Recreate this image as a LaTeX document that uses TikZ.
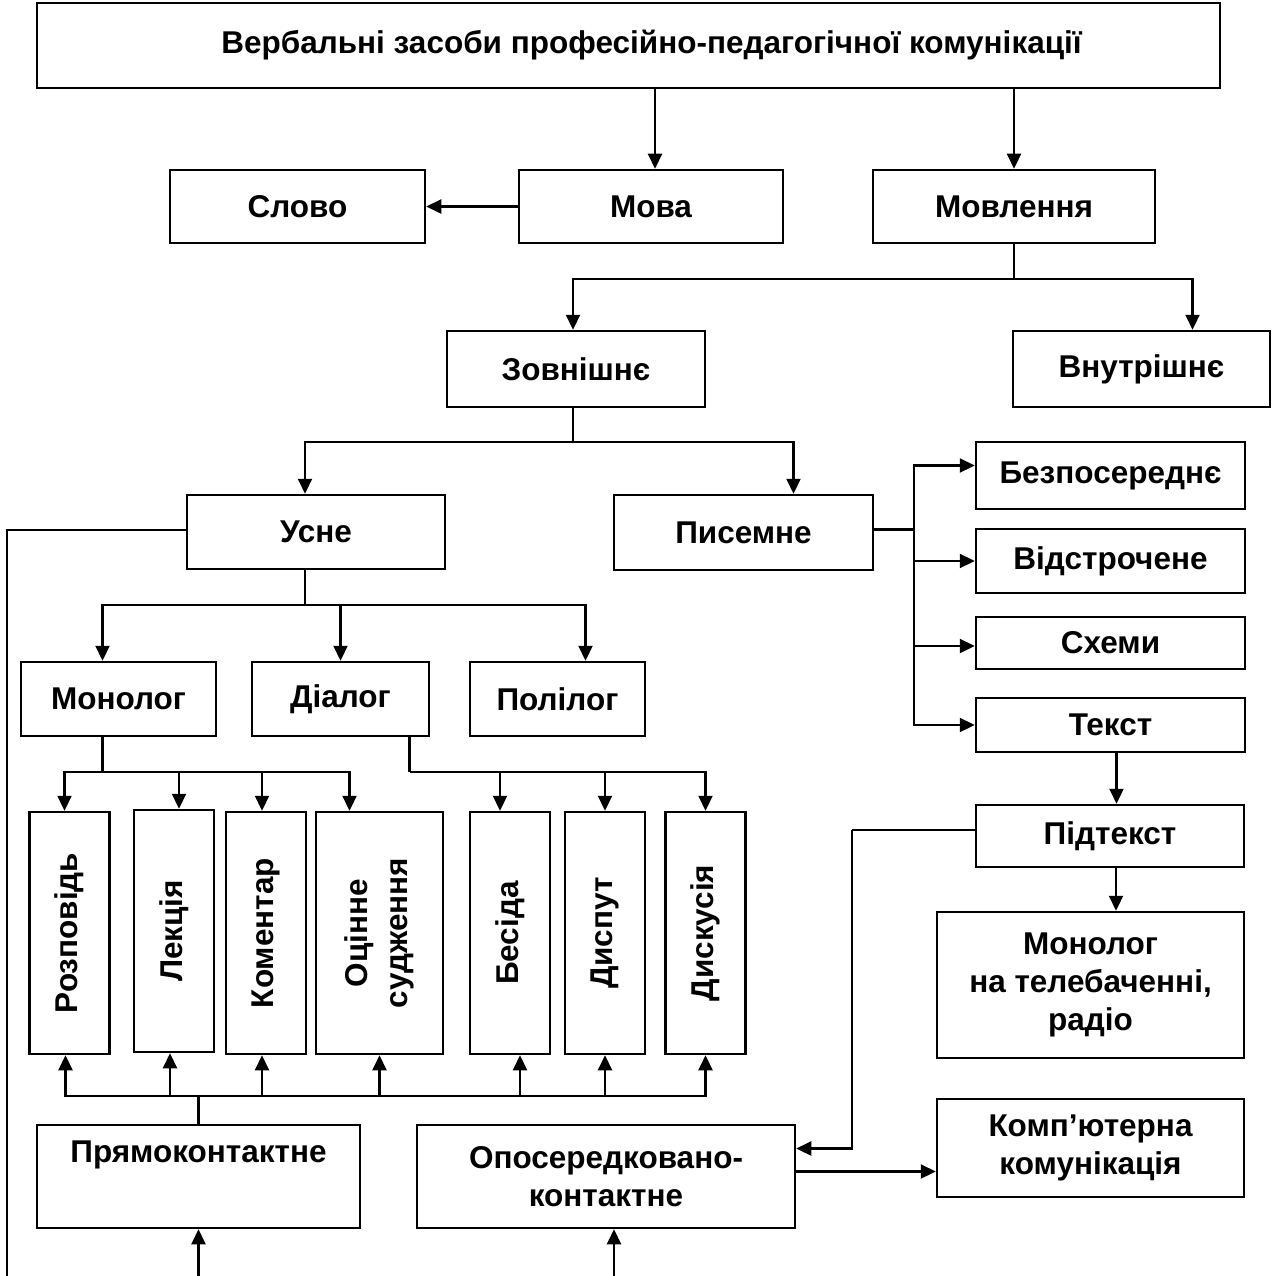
\documentclass[tikz,border=0pt]{standalone}
\usepackage{fontspec}
\setmainfont{Liberation Sans}
\usepackage{graphicx}
\usepackage{tikz}
\usetikzlibrary{arrows.meta, positioning}

\begin{document}
\begin{tikzpicture}
  [x=1pt, y=-1pt,
   every node/.style={draw, line width=2.5pt, inner sep=0pt, align=center,
                      font=\fontsize{31.5}{38}\selectfont\bfseries},
   box/.style 2 args={minimum width=#1, minimum height=#2},
   link/.style={line width=2.2pt},
   arr/.style={link, -{Triangle[length=15pt, width=14pt]}}]

  \useasboundingbox (0,0) rectangle (1271,1276);

  % upper levels
  \node[box={1183}{85}] (title) at (628.5,45.5)
       {\hspace*{46pt}Вербальні засоби професійно-педагогічної комунікації};
  \node[box={255}{73}] (slovo) at (297.5,206.5) {Слово};
  \node[box={264}{73}] (mova)  at (651,206.5)   {Мова};
  \node[box={282}{73}] (movl)  at (1014,206.5)  {Мовлення};
  \node[box={258}{76}] (zovn)  at (576,369)     {Зовнішнє};
  \node[box={257}{76}] (vnutr) at (1141.5,369)  {Внутрішнє};
  \node[box={258}{74}] (usne)  at (316,532)     {Усне};
  \node[box={259}{75}] (pys)   at (743.5,532.5) {Писемне};

  % written speech
  \node[box={269}{67}] (bezp)   at (1110.5,475.5) {Безпосереднє};
  \node[box={269}{64}] (vidstr) at (1110.5,561)   {Відстрочене};
  \node[box={269}{52}] (skhemy) at (1110.5,643)   {Схеми};
  \node[box={269}{54}] (tekst)  at (1110.5,725)   {Текст};
  \node[box={268}{62}] (pidt)   at (1110,836)     {Підтекст};
  \node[box={307}{146}] (montv) at (1090.5,985)   {Монолог\\на телебаченні,\\радіо};
  \node[box={307}{98}] (komp)   at (1090.5,1148)  {Комп’ютерна\\комунікація};

  % oral speech
  \node[box={195}{74}] (mono)  at (118.5,699) {Монолог};
  \node[box={177}{74}] (dial)  at (340.5,699) {Діалог};
  \node[box={175}{74}] (polil) at (557.5,699) {Полілог};

  \node[box={80}{242}]  (rozp)   at (69.5,933)  {\rotatebox{90}{Розповідь}};
  \node[box={80}{242}]  (lekc)   at (174,931)   {\rotatebox{90}{Лекція}};
  \node[box={80}{242}]  (koment) at (266,933)   {\rotatebox{90}{Коментар}};
  \node[box={127}{242}] (otsin)  at (379.5,933)
       {\rotatebox{90}{\begin{tabular}{@{}c@{}}Оцінне\\[2pt]судження\end{tabular}}};
  \node[box={80}{242}]  (besida) at (510,933)   {\rotatebox{90}{Бесіда}};
  \node[box={80}{242}]  (dysput) at (605,933)   {\rotatebox{90}{Диспут}};
  \node[box={80}{242}]  (dyskus) at (705.5,933) {\rotatebox{90}{Дискусія}};

  \node[box={323}{103}] (pryamo) at (198.5,1176.5) {Прямоконтактне\\\strut};
  \node[box={378}{103}] (oposer) at (606,1176.5)   {Опосередковано-\\контактне};

  \coordinate (ubot) at (7,1276);
  \coordinate (pin)  at (198.5,1276);
  \coordinate (oin)  at (614,1276);

  % connectors
  \coordinate (t1) at ([xshift=4pt]mova.north);
  \draw[arr] (t1 |- title.south) -- (t1);
  \draw[arr] (movl.north |- title.south) -- (movl.north);
  \draw[arr] (mova.west) -- (slovo.east);

  \draw[link] (movl.south) -- ++(0,35) coordinate (b1);
  \draw[arr] (b1) -| ([xshift=-3pt]zovn.north);
  \draw[arr] (b1) -| ([xshift=51pt]vnutr.north);

  \draw[link] ([xshift=-3pt]zovn.south) -- ++(0,34) coordinate (b2);
  \draw[arr] (b2) -| ([xshift=-11pt]usne.north);
  \draw[arr] (b2) -| ([xshift=50pt]pys.north);

  \draw[link] ([yshift=2pt]usne.west) -| (ubot);
  \draw[link] ([xshift=-11pt]usne.south) -- ++(0,35) coordinate (b3);
  \draw[arr] (b3) -| ([xshift=-16pt]mono.north);
  \draw[arr] (b3) -| (dial.north);
  \draw[arr] (b3) -| ([xshift=28pt]polil.north);

  \draw[link] ([xshift=-16pt]mono.south) -- ++(0,35) coordinate (b4);
  \draw[arr] (b4) -| ([xshift=-5pt]rozp.north);
  \draw[arr] (b4) -| ([xshift=5pt]lekc.north);
  \draw[arr] (b4) -| ([xshift=-4pt]koment.north);
  \draw[arr] (b4) -| ([xshift=-30pt]otsin.north);

  \draw[link] ([xshift=69pt]dial.south) -- ++(0,35) coordinate (b5);
  \draw[arr] (b5) -| ([xshift=-10pt]besida.north);
  \draw[arr] (b5) -| (dysput.north);
  \draw[arr] (b5) -| (dyskus.north);

  \draw[link] (pryamo.north) -- ++(0,-28) coordinate (b6);
  \draw[arr] (b6) -| ([xshift=-4pt]rozp.south);
  \draw[arr] (b6) -| ([xshift=-4pt]lekc.south);
  \draw[arr] (b6) -| ([xshift=-4pt]koment.south);
  \draw[arr] (b6) -| (otsin.south);
  \draw[arr] (b6) -| ([xshift=10pt]besida.south);
  \draw[arr] (b6) -| (dysput.south);
  \draw[arr] (b6) -| (dyskus.south);

  \draw[arr] (pin) -- (pryamo.south);
  \draw[arr] (oin) -- (oin |- oposer.south);

  \draw[link] ([yshift=3pt]pys.east) -- ++(40,0) coordinate (b7);
  \draw[arr] (b7) |- ([yshift=10pt]bezp.west);
  \draw[arr] (b7) |- (vidstr.west);
  \draw[arr] (b7) |- ([yshift=-3pt]skhemy.west);
  \draw[arr] (b7) |- (tekst.west);

  \coordinate (p0) at ([xshift=6pt]tekst.south);
  \draw[arr] (p0) -- (p0 |- pidt.north);
  \coordinate (p1) at ([xshift=6pt]pidt.south);
  \draw[arr] (p1) -- (p1 |- montv.north);

  \draw[link] ([yshift=6pt]pidt.west) -- ++(-123,0) coordinate (b8);
  \draw[arr] (b8) |- ([yshift=28pt]oposer.east);
  \coordinate (o1) at ([yshift=5pt]oposer.east);
  \draw[arr] (o1) -- (o1 -| komp.west);
\end{tikzpicture}
\end{document}
